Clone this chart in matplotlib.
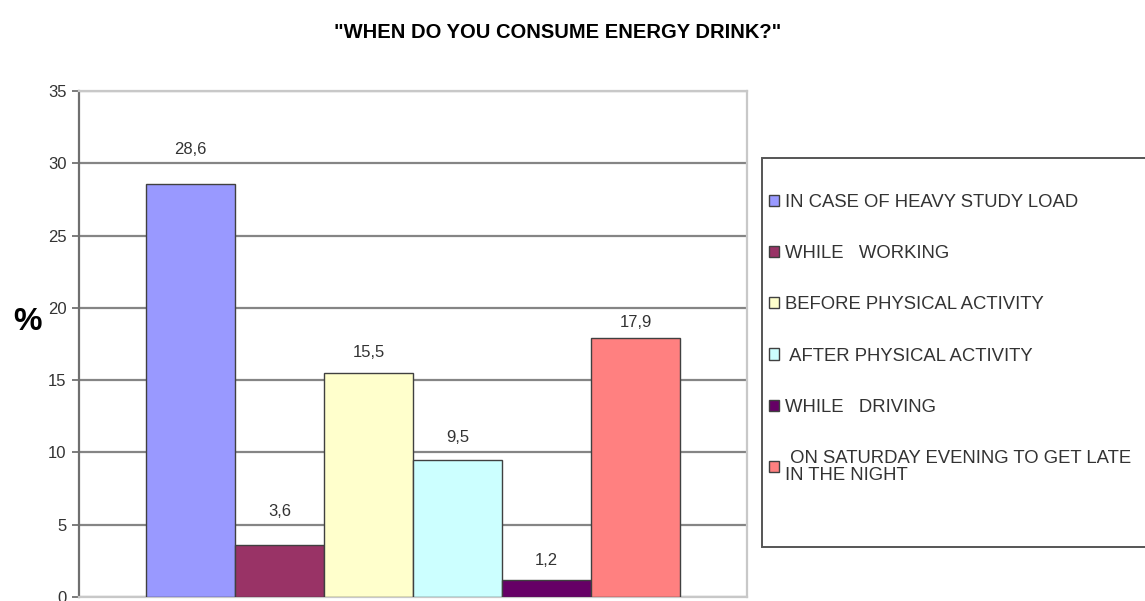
import matplotlib.pyplot as plt
from matplotlib.patches import Rectangle

plt.rcParams['font.family'] = ['Liberation Sans', 'DejaVu Sans']

# survey answers (%)
answers = ["IN CASE OF HEAVY STUDY LOAD", "WHILE   WORKING", "BEFORE PHYSICAL ACTIVITY",
           " AFTER PHYSICAL ACTIVITY", "WHILE   DRIVING",
           " ON SATURDAY EVENING TO GET LATE\nIN THE NIGHT"]
shares = [28.6, 3.6, 15.5, 9.5, 1.2, 17.9]
colors = ["#9999FF", "#993366", "#FFFFCC", "#CCFFFF", "#660066", "#FF8080"]
yticks = [0, 5, 10, 15, 20, 25, 30, 35]
# distance of each value label above its bar, in pixels
label_gap = [34, 33, 20, 22, 19, 16]

fig = plt.figure(figsize=(11.45, 6.01), dpi=100)
ax = fig.add_axes([79 / 1145, 4 / 601, 668 / 1145, 506 / 601])

pos = list(range(len(shares)))
bars = ax.bar(pos, shares, width=1.0, color=colors, edgecolor="#404040",
              linewidth=1.0, zorder=3)
for x, v, gap in zip(pos, shares, label_gap):
    ax.annotate(f"{v:.1f}".replace(".", ","), (x, v), xytext=(0, gap),
                textcoords="offset pixels", ha="center", va="center",
                fontsize=12, color="#333333")

ax.set_xlim(-1.25, 6.25)
ax.set_ylim(0, 35)
ax.set_yticks(yticks)
ax.set_xticks([])
ax.tick_params(axis="y", length=5, width=1.2, color="#666666",
               labelsize=12, labelcolor="#333333", pad=4)
ax.yaxis.grid(True, color="#858585", linewidth=1.6, zorder=0)
ax.set_axisbelow(True)

ax.spines["left"].set_color("#6f6f6f")
ax.spines["left"].set_linewidth(1.6)
for side in ["top", "right", "bottom"]:
    ax.spines[side].set_color("#c8c8c8")
    ax.spines[side].set_linewidth(1.6)

fig.text(28 / 1145, 1 - 322 / 601, "%", fontsize=23, fontweight="bold",
         ha="center", va="center")
fig.suptitle('"WHEN DO YOU CONSUME ENERGY DRINK?"', x=558 / 1145, y=1 - 32 / 601,
             fontsize=14.5, fontweight="bold", va="center")

# legend box runs off the right edge
fig.patches.append(Rectangle((762 / 1145, 1 - 547 / 601), 400 / 1145, 389 / 601,
                             transform=fig.transFigure, facecolor="white",
                             edgecolor="#555555", linewidth=1.4, zorder=1))
leg = fig.legend(bars, answers, loc="upper left",
                 bbox_to_anchor=(769 / 1145, 1 - 194 / 601), frameon=False,
                 fontsize=13.3, labelspacing=1.85, handlelength=0.55,
                 handleheight=0.55, handletextpad=0.3, borderpad=0,
                 borderaxespad=0)
for t in leg.get_texts():
    t.set_color("#333333")
    t.set_linespacing(1.0)

fig.savefig("out.png", dpi=100)
